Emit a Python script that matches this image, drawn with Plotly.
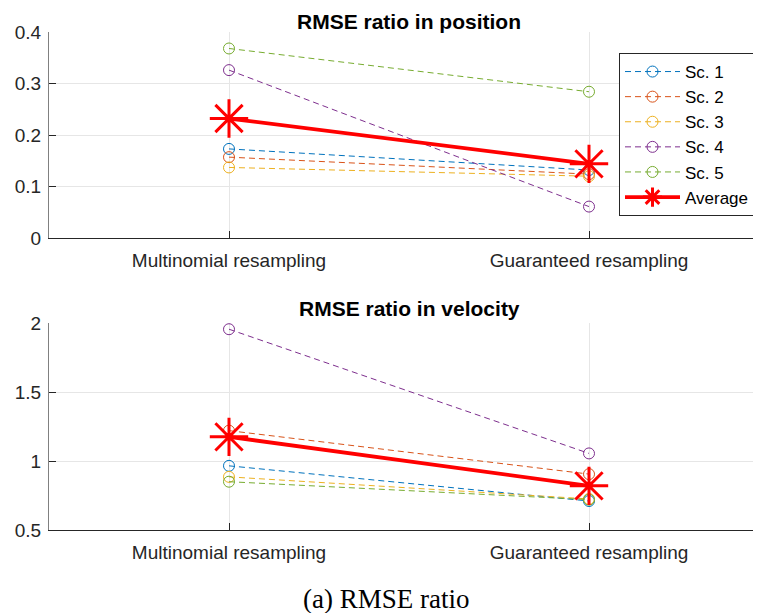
import plotly.graph_objects as go

# categories on the x axis
categories = ['Multinomial resampling', 'Guaranteed resampling']
scenario_names = ['Sc. 1', 'Sc. 2', 'Sc. 3', 'Sc. 4', 'Sc. 5']

# RMSE ratio in position, one pair per scenario
position_sc1 = [0.173, 0.132]
position_sc2 = [0.157, 0.124]
position_sc3 = [0.137, 0.120]
position_sc4 = [0.326, 0.061]
position_sc5 = [0.368, 0.284]
position_avg = [0.232, 0.144]

# RMSE ratio in velocity
velocity_sc1 = [0.965, 0.710]
velocity_sc2 = [1.220, 0.905]
velocity_sc3 = [0.885, 0.725]
velocity_sc4 = [1.955, 1.055]
velocity_sc5 = [0.850, 0.720]
velocity_avg = [1.175, 0.820]

position_ticks = [0, 0.1, 0.2, 0.3, 0.4]
velocity_ticks = [0.5, 1, 1.5, 2]

colors = ['#0072BD', '#D95319', '#EDB120', '#7E2F8E', '#77AC30']
FONT = 'Liberation Sans, Arial, sans-serif'

# the page body adds an 8px offset, so work in figure pixels = picture pixels - 8
W, H = 761, 613
OFF = 8
LEFT = 41


def ypaper(py):
    return 1 - (py - OFF) / H


def xpaper(px):
    return (px - OFF - LEFT) / (W - LEFT)


def add_panel(fig, scenarios, average, xaxis, yaxis, show_legend):
    """ Dashed lines for each scenario plus the thick red average. """
    for name, vals, color in zip(scenario_names, scenarios, colors):
        fig.add_trace(go.Scatter(
            x=categories, y=vals, mode='lines+markers', name=name,
            xaxis=xaxis, yaxis=yaxis, showlegend=show_legend,
            line=dict(color=color, width=1, dash='6px,4px'),
            marker=dict(symbol='circle-open', size=11, color=color,
                        line=dict(color=color, width=1))))
    fig.add_trace(go.Scatter(
        x=categories, y=average, mode='lines+markers', name='Average',
        xaxis=xaxis, yaxis=yaxis, showlegend=show_legend,
        line=dict(color='#FF0000', width=3.8),
        marker=dict(symbol='asterisk-open', size=32, color='#FF0000',
                    line=dict(color='#FF0000', width=3))))


def main():
    fig = go.Figure()
    add_panel(fig, [position_sc1, position_sc2, position_sc3, position_sc4, position_sc5],
              position_avg, 'x', 'y', True)
    add_panel(fig, [velocity_sc1, velocity_sc2, velocity_sc3, velocity_sc4, velocity_sc5],
              velocity_avg, 'x2', 'y2', False)

    xcommon = dict(type='category', range=[-0.5, 1.5], showgrid=True,
                   gridcolor='#E6E6E6', gridwidth=1, showline=True,
                   linecolor='#262626', linewidth=1, ticks='inside', ticklen=7,
                   tickcolor='#262626', ticklabelstandoff=5, automargin=False,
                   tickfont=dict(family=FONT, size=19, color='#262626'),
                   zeroline=False)
    ycommon = dict(showgrid=True, gridcolor='#E6E6E6', gridwidth=1, showline=True,
                   linecolor='#808080', linewidth=1, ticks='inside', ticklen=7,
                   tickcolor='#262626', ticklabelstandoff=3, automargin=False,
                   tickfont=dict(family=FONT, size=19, color='#262626'),
                   zeroline=False)

    fig.update_layout(
        width=W, height=H,
        margin=dict(l=LEFT, r=0, t=0, b=0),
        paper_bgcolor='white', plot_bgcolor='white',
        xaxis=dict(xcommon, domain=[0, 1], anchor='y'),
        xaxis2=dict(xcommon, domain=[0, 1], anchor='y2'),
        yaxis=dict(ycommon, domain=[ypaper(238), ypaper(32)], anchor='x',
                   range=[0, 0.4], tickvals=position_ticks,
                   ticktext=[f'{v:g}' for v in position_ticks]),
        yaxis2=dict(ycommon, domain=[ypaper(530), ypaper(323)], anchor='x2',
                    range=[0.5, 2], tickvals=velocity_ticks,
                    ticktext=[f'{v:g}' for v in velocity_ticks]),
        legend=dict(x=xpaper(619), y=ypaper(53), xanchor='left', yanchor='top',
                    bgcolor='white', bordercolor='#262626', borderwidth=1,
                    font=dict(family=FONT, size=17, color='#000000'),
                    itemwidth=55, tracegroupgap=0),
        annotations=[
            dict(text='<b>RMSE ratio in position</b>', x=xpaper(409), y=1,
                 xref='paper', yref='paper', showarrow=False,
                 xanchor='center', yanchor='top',
                 font=dict(family=FONT, size=21, color='#000000')),
            dict(text='<b>RMSE ratio in velocity</b>', x=xpaper(409), y=ypaper(308),
                 xref='paper', yref='paper', showarrow=False,
                 xanchor='center', yanchor='middle',
                 font=dict(family=FONT, size=21, color='#000000')),
            dict(text='(a) RMSE ratio', x=xpaper(386), y=ypaper(599),
                 xref='paper', yref='paper', showarrow=False,
                 xanchor='center', yanchor='middle',
                 font=dict(family='Liberation Serif, serif', size=27, color='#000000')),
        ],
    )

    fig.write_html('out.html')
    print("Plot saved to 'out.html'.")


if __name__ == '__main__':
    main()
